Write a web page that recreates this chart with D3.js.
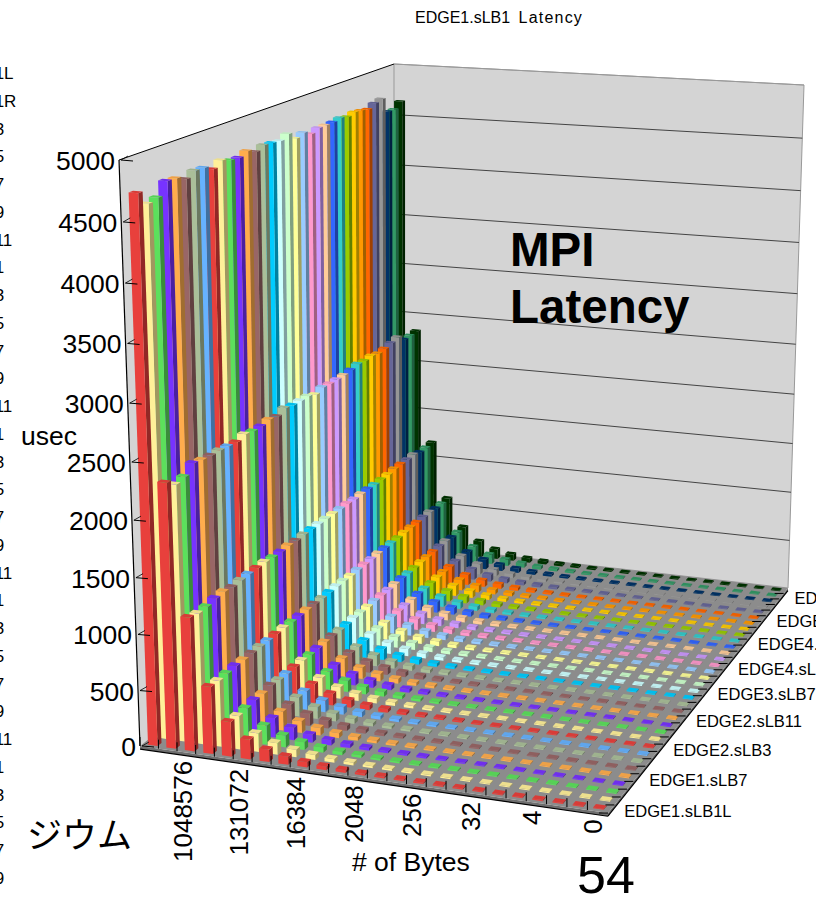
<!DOCTYPE html>
<html>
<head>
<meta charset="utf-8">
<script src="https://cdnjs.cloudflare.com/ajax/libs/d3/7.8.5/d3.min.js"></script>
<style>
html,body{margin:0;padding:0;background:#fff;overflow:hidden}
svg{display:block}
text{font-family:"Liberation Sans",Arial,sans-serif;fill:#000}
</style>
</head>
<body>
<svg id="chart" width="836" height="898"></svg>
<script>
// Message sizes in bytes, smallest first; the axis labels every third one.
const byteSizes = [0,1,2,4,8,16,32,64,128,256,512,1024,2048,4096,8192,16384,32768,65536,131072,262144,524288,1048576,2097152,4194304];

const seriesNames = [
  "EDGE1.sLB1L","EDGE1.sLB1R","EDGE1.sLB3","EDGE1.sLB5","EDGE1.sLB7","EDGE1.sLB9","EDGE1.sLB11",
  "EDGE2.sLB1","EDGE2.sLB3","EDGE2.sLB5","EDGE2.sLB7","EDGE2.sLB9","EDGE2.sLB11",
  "EDGE3.sLB1","EDGE3.sLB3","EDGE3.sLB5","EDGE3.sLB7","EDGE3.sLB9","EDGE3.sLB11",
  "EDGE4.sLB1","EDGE4.sLB3","EDGE4.sLB5","EDGE4.sLB7","EDGE4.sLB9","EDGE4.sLB11",
  "EDGE5.sLB1","EDGE5.sLB3","EDGE5.sLB5","EDGE5.sLB7","EDGE5.sLB9","EDGE5.sLB11",
  "EDGE6.sLB1","EDGE6.sLB3","EDGE6.sLB5"
];

const seriesColors = [
  "#E8403C","#FFF099","#5CE05C","#7733FF","#FFAD4D","#996666","#AABF99","#66B2FF",
  "#E8403C","#FFF099","#5CE05C","#7733FF","#FFAD4D","#996666","#AABF99",
  "#00CCFF","#CCFFFF","#CCFFCC","#FFFF99","#99CCFF","#FF99CC","#CC99FF","#FFCC99",
  "#3366FF","#33CCCC","#99CC00","#FFCC00","#FF9900","#FF6600","#666699","#969696",
  "#003366","#339966","#003300"
];

// Latency in microseconds for the large messages, one value per series.
const latency4194304 = [4734,4617,4636,4742,4735,4699,4741,4736,4695,4742,4715,4708,4739,4704,4736,4728,4718,4754,4687,4713,4676,4705,4703,4706,4720,4704,4724,4715,4700,4735,4752,4604,4600,4654];
const latency2097152 = [2340,2277,2295,2367,2349,2340,2340,2331,2322,2349,2331,2331,2349,2331,2367,2349,2349,2349,2322,2349,2340,2340,2340,2349,2367,2358,2367,2349,2358,2376,2394,2331,2331,2340];
const latency1048576 = [1190,1170,1172,1190,1196,1180,1190,1192,1192,1196,1186,1184,1190,1184,1190,1190,1188,1188,1186,1184,1184,1178,1180,1180,1176,1178,1180,1190,1190,1190,1194,1170,1170,1178];
const latency524288 = [600,592,596,604,600,600,602,598,600,602,598,598,600,598,596,598,600,598,594,598,596,596,598,600,598,596,600,602,600,604,606,590,590,596];
const latency262144 = [310,300,306,318,312,326,316,312,314,316,308,310,312,310,308,306,310,308,306,308,306,304,308,310,306,306,312,310,310,314,316,300,300,304];
const latency131072 = [176,168,172,176,172,176,178,172,176,174,170,172,174,170,168,170,172,170,168,170,168,168,170,172,168,168,172,174,172,174,176,166,166,170];
const latency65536 = [110,104,106,112,108,110,110,108,108,108,106,108,108,106,106,106,108,106,106,106,106,104,106,108,106,106,106,108,106,108,110,102,102,104];
const latency32768 = [72,68,70,72,70,72,72,70,70,70,68,70,70,70,68,68,70,68,68,68,68,68,68,70,68,68,70,70,68,70,70,66,66,68];

// Smaller messages sit almost flat on the floor, one reading per size, 0 to 16384 bytes.
const smallSizeLatency = [8,8,8,9,9,9,10,10,11,12,13,15,18,24,32,46];

const largeSizeRows = new Map([
  [32768, latency32768],[65536, latency65536],[131072, latency131072],[262144, latency262144],
  [524288, latency524288],[1048576, latency1048576],[2097152, latency2097152],[4194304, latency4194304]
]);

const valueTicks = [0,500,1000,1500,2000,2500,3000,3500,4000,4500,5000];
const valueMax = 5000;

// Plot box corners on screen: floor and ceiling of the 3D frame.
const floorQuad = {fl:[140,746], fr:[608,813], br:[788,588], bl:[394,543]};
const ceilQuad  = {fl:[119,160], fr:[617,198], br:[804,85],  bl:[394,64]};
const heightBend = 1.0635;

function quadMap(q){
  const [x0,y0]=q.fl,[x1,y1]=q.fr,[x2,y2]=q.br,[x3,y3]=q.bl;
  const dx1=x1-x2,dx2=x3-x2,dx3=x0-x1+x2-x3,dy1=y1-y2,dy2=y3-y2,dy3=y0-y1+y2-y3;
  const det=dx1*dy2-dx2*dy1;
  const g=(dx3*dy2-dx2*dy3)/det,h=(dx1*dy3-dx3*dy1)/det;
  const a=x1-x0+g*x1,b=x3-x0+h*x3,d=y1-y0+g*y1,e=y3-y0+h*y3;
  return (u,v)=>{const w=g*u+h*v+1;return [(a*u+b*v+x0)/w,(d*u+e*v+y0)/w];};
}
const floorMap=quadMap(floorQuad), ceilMap=quadMap(ceilQuad);

const valueScale=d3.scaleLinear().domain([0,valueMax]).range([0,1]);
// Position on the frame from normalised width u, depth v and a value.
function project(u,v,val){
  const t=valueScale(val);
  const f=t/(t+(1-t)*heightBend);
  const a=floorMap(u,v),b=ceilMap(u,v);
  return [a[0]+(b[0]-a[0])*f,a[1]+(b[1]-a[1])*f];
}

// Largest message on the left, first series at the front.
const sizeScale=d3.scaleBand().domain(byteSizes.slice().reverse()).range([0,1]).paddingInner(0.48).paddingOuter(0.3);
const seriesScale=d3.scaleBand().domain(seriesNames).range([0,1]).paddingInner(0.56).paddingOuter(0.28);
const sizeCentre=s=>sizeScale(s)+sizeScale.bandwidth()/2;
const seriesCentre=s=>seriesScale(s)+seriesScale.bandwidth()/2;

const latencyOf=(size,si)=>largeSizeRows.has(size)?largeSizeRows.get(size)[si]:smallSizeLatency[byteSizes.indexOf(size)];

const svg=d3.select("#chart");
const path=d3.line();
const poly=pts=>path(pts)+"Z";

svg.append("clipPath").attr("id","pageClip").append("rect").attr("width",816).attr("height",898);

// Walls and floor slab
const frame=svg.append("g");
frame.append("path").attr("d",poly([project(0,0,0),project(0,0,valueMax),project(0,1,valueMax),project(0,1,0)])).attr("fill","#D4D4D4");
frame.append("path").attr("d",poly([project(0,1,0),project(0,1,valueMax),project(1,1,valueMax),project(1,1,0)])).attr("fill","#D4D4D4").attr("stroke","#999").attr("stroke-width",1);
frame.append("path").attr("d",poly([project(0,0,-28),project(1,0,-28),project(1,0,0),project(0,0,0)])).attr("fill","#6e6e6e");
frame.append("path").attr("d",poly([project(1,0,-28),project(1,1,-28),project(1,1,0),project(1,0,0)])).attr("fill","#6e6e6e");
frame.append("path").attr("d",poly([project(0,0,0),project(1,0,0),project(1,1,0),project(0,1,0)])).attr("fill","#8C8C8C");

// Gridlines on the back wall
frame.selectAll("line.grid").data(valueTicks.slice(1,-1)).join("line").attr("class","grid")
  .attr("x1",d=>project(0,1,d)[0]).attr("y1",d=>project(0,1,d)[1])
  .attr("x2",d=>project(1,1,d)[0]).attr("y2",d=>project(1,1,d)[1])
  .attr("stroke","#444").attr("stroke-width",1);

// Bars, back row first so nearer bars cover farther ones
const cells=[];
seriesNames.forEach((name,si)=>{
  byteSizes.forEach(size=>cells.push({name,si,size,value:latencyOf(size,si)}));
});
cells.sort((a,b)=>d3.descending(a.si,b.si)||d3.descending(a.size,b.size));

const area=p=>d3.polygonArea(p);
const bars=svg.append("g").selectAll("g").data(cells).join("g");
bars.each(function(d){
  const g=d3.select(this),c=d3.rgb(seriesColors[d.si]);
  const u0=sizeScale(d.size),u1=u0+sizeScale.bandwidth();
  const v0=seriesScale(d.name),v1=v0+seriesScale.bandwidth();
  const rightFace=[project(u1,v0,0),project(u1,v1,0),project(u1,v1,d.value),project(u1,v0,d.value)];
  const leftFace=[project(u0,v0,0),project(u0,v1,0),project(u0,v1,d.value),project(u0,v0,d.value)];
  const side=c.darker(1.3).formatHex();
  if(area(rightFace)>0) g.append("path").attr("d",poly(rightFace)).attr("fill",side);
  if(area(leftFace)<0) g.append("path").attr("d",poly(leftFace)).attr("fill",side);
  g.append("path").attr("d",poly([project(u0,v0,0),project(u1,v0,0),project(u1,v0,d.value),project(u0,v0,d.value)])).attr("fill",c.formatHex());
  g.append("path").attr("d",poly([project(u0,v0,d.value),project(u1,v0,d.value),project(u1,v1,d.value),project(u0,v1,d.value)])).attr("fill",c.darker(0.2).formatHex());
});

// Frame outline and axes
const axes=svg.append("g").attr("stroke","#000").attr("fill","none");
const seg=(a,b,w,col)=>axes.append("line").attr("x1",a[0]).attr("y1",a[1]).attr("x2",b[0]).attr("y2",b[1]).attr("stroke-width",w||1).attr("stroke",col||"#000");
seg(project(0,0,0),project(0,0,valueMax),1.2);
seg(project(0,0,valueMax),project(0,1,valueMax),1);
seg(project(0,1,valueMax),project(1,1,valueMax),1,"#999");
seg(project(0,0,-28),project(1,0,-28),1.2);
seg(project(1,0,-28),project(1,1,-28),1.2);

valueTicks.forEach(t=>{
  const p=project(0,0,t);
  seg([p[0]+2,p[1]],[p[0]+14,p[1]+1],1);
  seg([p[0]+2,p[1]],[p[0]+9,p[1]-4],0.8);
});
byteSizes.forEach((s,i)=>{
  const u=i/byteSizes.length;
  const p=project(u,0,0);
  seg(p,[p[0],p[1]-9],1);
});
seriesNames.forEach((s,i)=>{
  const v=i/seriesNames.length;
  const p=project(1,v,0);
  seg(p,[p[0]-9,p[1]],1);
});

// Value labels
svg.append("g").selectAll("text").data(valueTicks).join("text")
  .attr("x",d=>project(0,0,d)[0]-4).attr("y",d=>project(0,0,d)[1]+10)
  .attr("text-anchor","end").attr("font-size",26.5).text(d=>d);

// Size labels, rotated
svg.append("g").selectAll("text").data(byteSizes.filter((s,i)=>i%3===0)).join("text")
  .attr("transform",d=>{const p=project(sizeCentre(d),0,0);return `translate(${p[0]+5},${p[1]+8}) rotate(-90)`;})
  .attr("text-anchor","end").attr("font-size",26).text(d=>d);

// Series labels along the right floor edge, cut at the slide edge
svg.append("g").attr("clip-path","url(#pageClip)").selectAll("text").data(seriesNames.filter((s,i)=>i%4===0)).join("text")
  .attr("x",d=>project(1,seriesCentre(d),0)[0]+13).attr("y",d=>project(1,seriesCentre(d),0)[1]+8)
  .attr("font-size",16.5).text(d=>d);

// Legend, running off the left and bottom of the slide
const legendY=d3.scaleLinear().domain([0,29]).range([79,884]);
svg.append("g").selectAll("text").data(seriesNames.slice(0,30)).join("text")
  .attr("x",-97).attr("y",(d,i)=>legendY(i)).attr("font-size",17).text(d=>d);

// Titles and annotations
const title=svg.append("text").attr("x",415).attr("y",23).attr("font-size",16).attr("word-spacing",4);
title.append("tspan").text("EDGE1.sLB1 ");
title.append("tspan").attr("letter-spacing",1.2).text("Latency");
svg.append("text").attr("x",510).attr("y",266).attr("font-size",47.5).attr("font-weight","bold").text("MPI");
svg.append("text").attr("x",510).attr("y",323).attr("font-size",47.5).attr("font-weight","bold").text("Latency");
svg.append("text").attr("x",21).attr("y",445).attr("font-size",26.5).text("usec");
svg.append("text").attr("x",352).attr("y",871).attr("font-size",26.5).text("# of Bytes");
svg.append("text").attr("x",27).attr("y",848).attr("font-size",35).style("font-family","Noto Sans CJK JP").text("ジウム");
svg.append("text").attr("x",577).attr("y",893).attr("font-size",52).text("54");
</script>
</body>
</html>
